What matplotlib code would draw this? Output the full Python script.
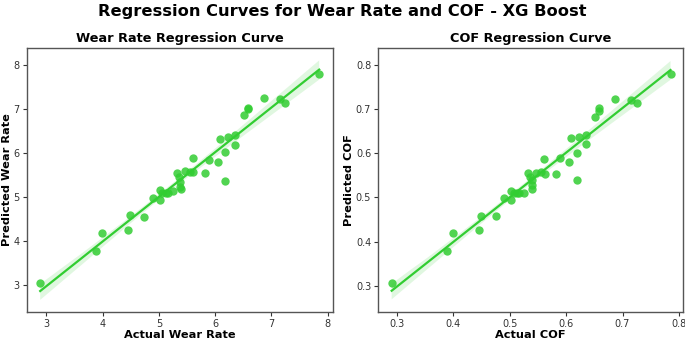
import matplotlib
matplotlib.use("Agg")
import matplotlib.pyplot as plt
import seaborn as sns
import numpy as np

# actual vs predicted wear rate
wear_actual = [2.89, 3.88, 3.99, 4.45, 4.49, 4.74, 4.89, 5.02, 5.02, 5.06, 5.12, 5.16, 5.25,
               5.32, 5.35, 5.38, 5.38, 5.39, 5.46, 5.56, 5.60, 5.61, 5.82, 5.89, 6.05, 6.08,
               6.18, 6.18, 6.23, 6.35, 6.35, 6.51, 6.59, 6.59, 6.86, 7.15, 7.25, 7.85]
wear_pred = [3.05, 3.78, 4.19, 4.26, 4.59, 4.55, 4.98, 4.94, 5.15, 5.09, 5.09, 5.09, 5.14,
             5.55, 5.45, 5.34, 5.23, 5.18, 5.59, 5.56, 5.89, 5.56, 5.55, 5.84, 5.80, 6.31,
             6.02, 5.37, 6.36, 6.42, 6.19, 6.86, 7.00, 7.03, 7.25, 7.23, 7.14, 7.80]

# actual vs predicted COF
cof_actual = [0.291, 0.389, 0.400, 0.446, 0.450, 0.475, 0.490, 0.503, 0.503, 0.508, 0.513,
              0.517, 0.525, 0.532, 0.536, 0.539, 0.539, 0.540, 0.547, 0.556, 0.560, 0.562,
              0.582, 0.589, 0.605, 0.609, 0.619, 0.619, 0.622, 0.636, 0.636, 0.651, 0.659,
              0.659, 0.686, 0.715, 0.726, 0.785]
cof_pred = [0.307, 0.379, 0.419, 0.427, 0.458, 0.457, 0.498, 0.493, 0.514, 0.510, 0.510,
            0.510, 0.510, 0.555, 0.547, 0.539, 0.529, 0.519, 0.555, 0.557, 0.587, 0.554,
            0.553, 0.589, 0.581, 0.635, 0.601, 0.539, 0.637, 0.642, 0.620, 0.682, 0.696,
            0.703, 0.722, 0.721, 0.713, 0.779]

fig = plt.figure(figsize=(6.85, 3.4), dpi=100)
ax1 = fig.add_axes([0.039, 0.082, 0.447, 0.777])
ax2 = fig.add_axes([0.552, 0.082, 0.445, 0.777])

panels = [
    (ax1, wear_actual, wear_pred, "Wear Rate Regression Curve", "Actual Wear Rate", "Predicted Wear Rate",
     [3, 4, 5, 6, 7, 8]),
    (ax2, cof_actual, cof_pred, "COF Regression Curve", "Actual COF", "Predicted COF",
     [0.3, 0.4, 0.5, 0.6, 0.7, 0.8]),
]

for ax, x, y, title, xl, yl, ticks in panels:
    sns.regplot(x=np.array(x), y=np.array(y), ax=ax, color="limegreen", seed=1,
                scatter_kws={"s": 36, "alpha": 0.85, "linewidths": 0},
                line_kws={"linewidth": 1.6})
    ax.set_title(title, fontsize=9.3, fontweight="bold", pad=4)
    ax.set_xlabel(xl, fontsize=8.2, fontweight="bold", labelpad=1)
    ax.set_ylabel(yl, fontsize=8.2, fontweight="bold", labelpad=1)
    ax.set_xticks(ticks)
    ax.set_yticks(ticks)
    ax.tick_params(labelsize=7, colors="#333333", length=3, pad=2)
    for s in ax.spines.values():
        s.set_color("#555555")
        s.set_linewidth(1.0)

ax1.set_xlim(2.65, 8.094)
ax1.set_ylim(2.386, 8.386)
ax2.set_xlim(0.267, 0.807)
ax2.set_ylim(0.2405, 0.838)

fig.suptitle("Regression Curves for Wear Rate and COF - XG Boost", fontsize=11.7,
             fontweight="bold", y=0.988)

fig.savefig("out.png", dpi=100)
